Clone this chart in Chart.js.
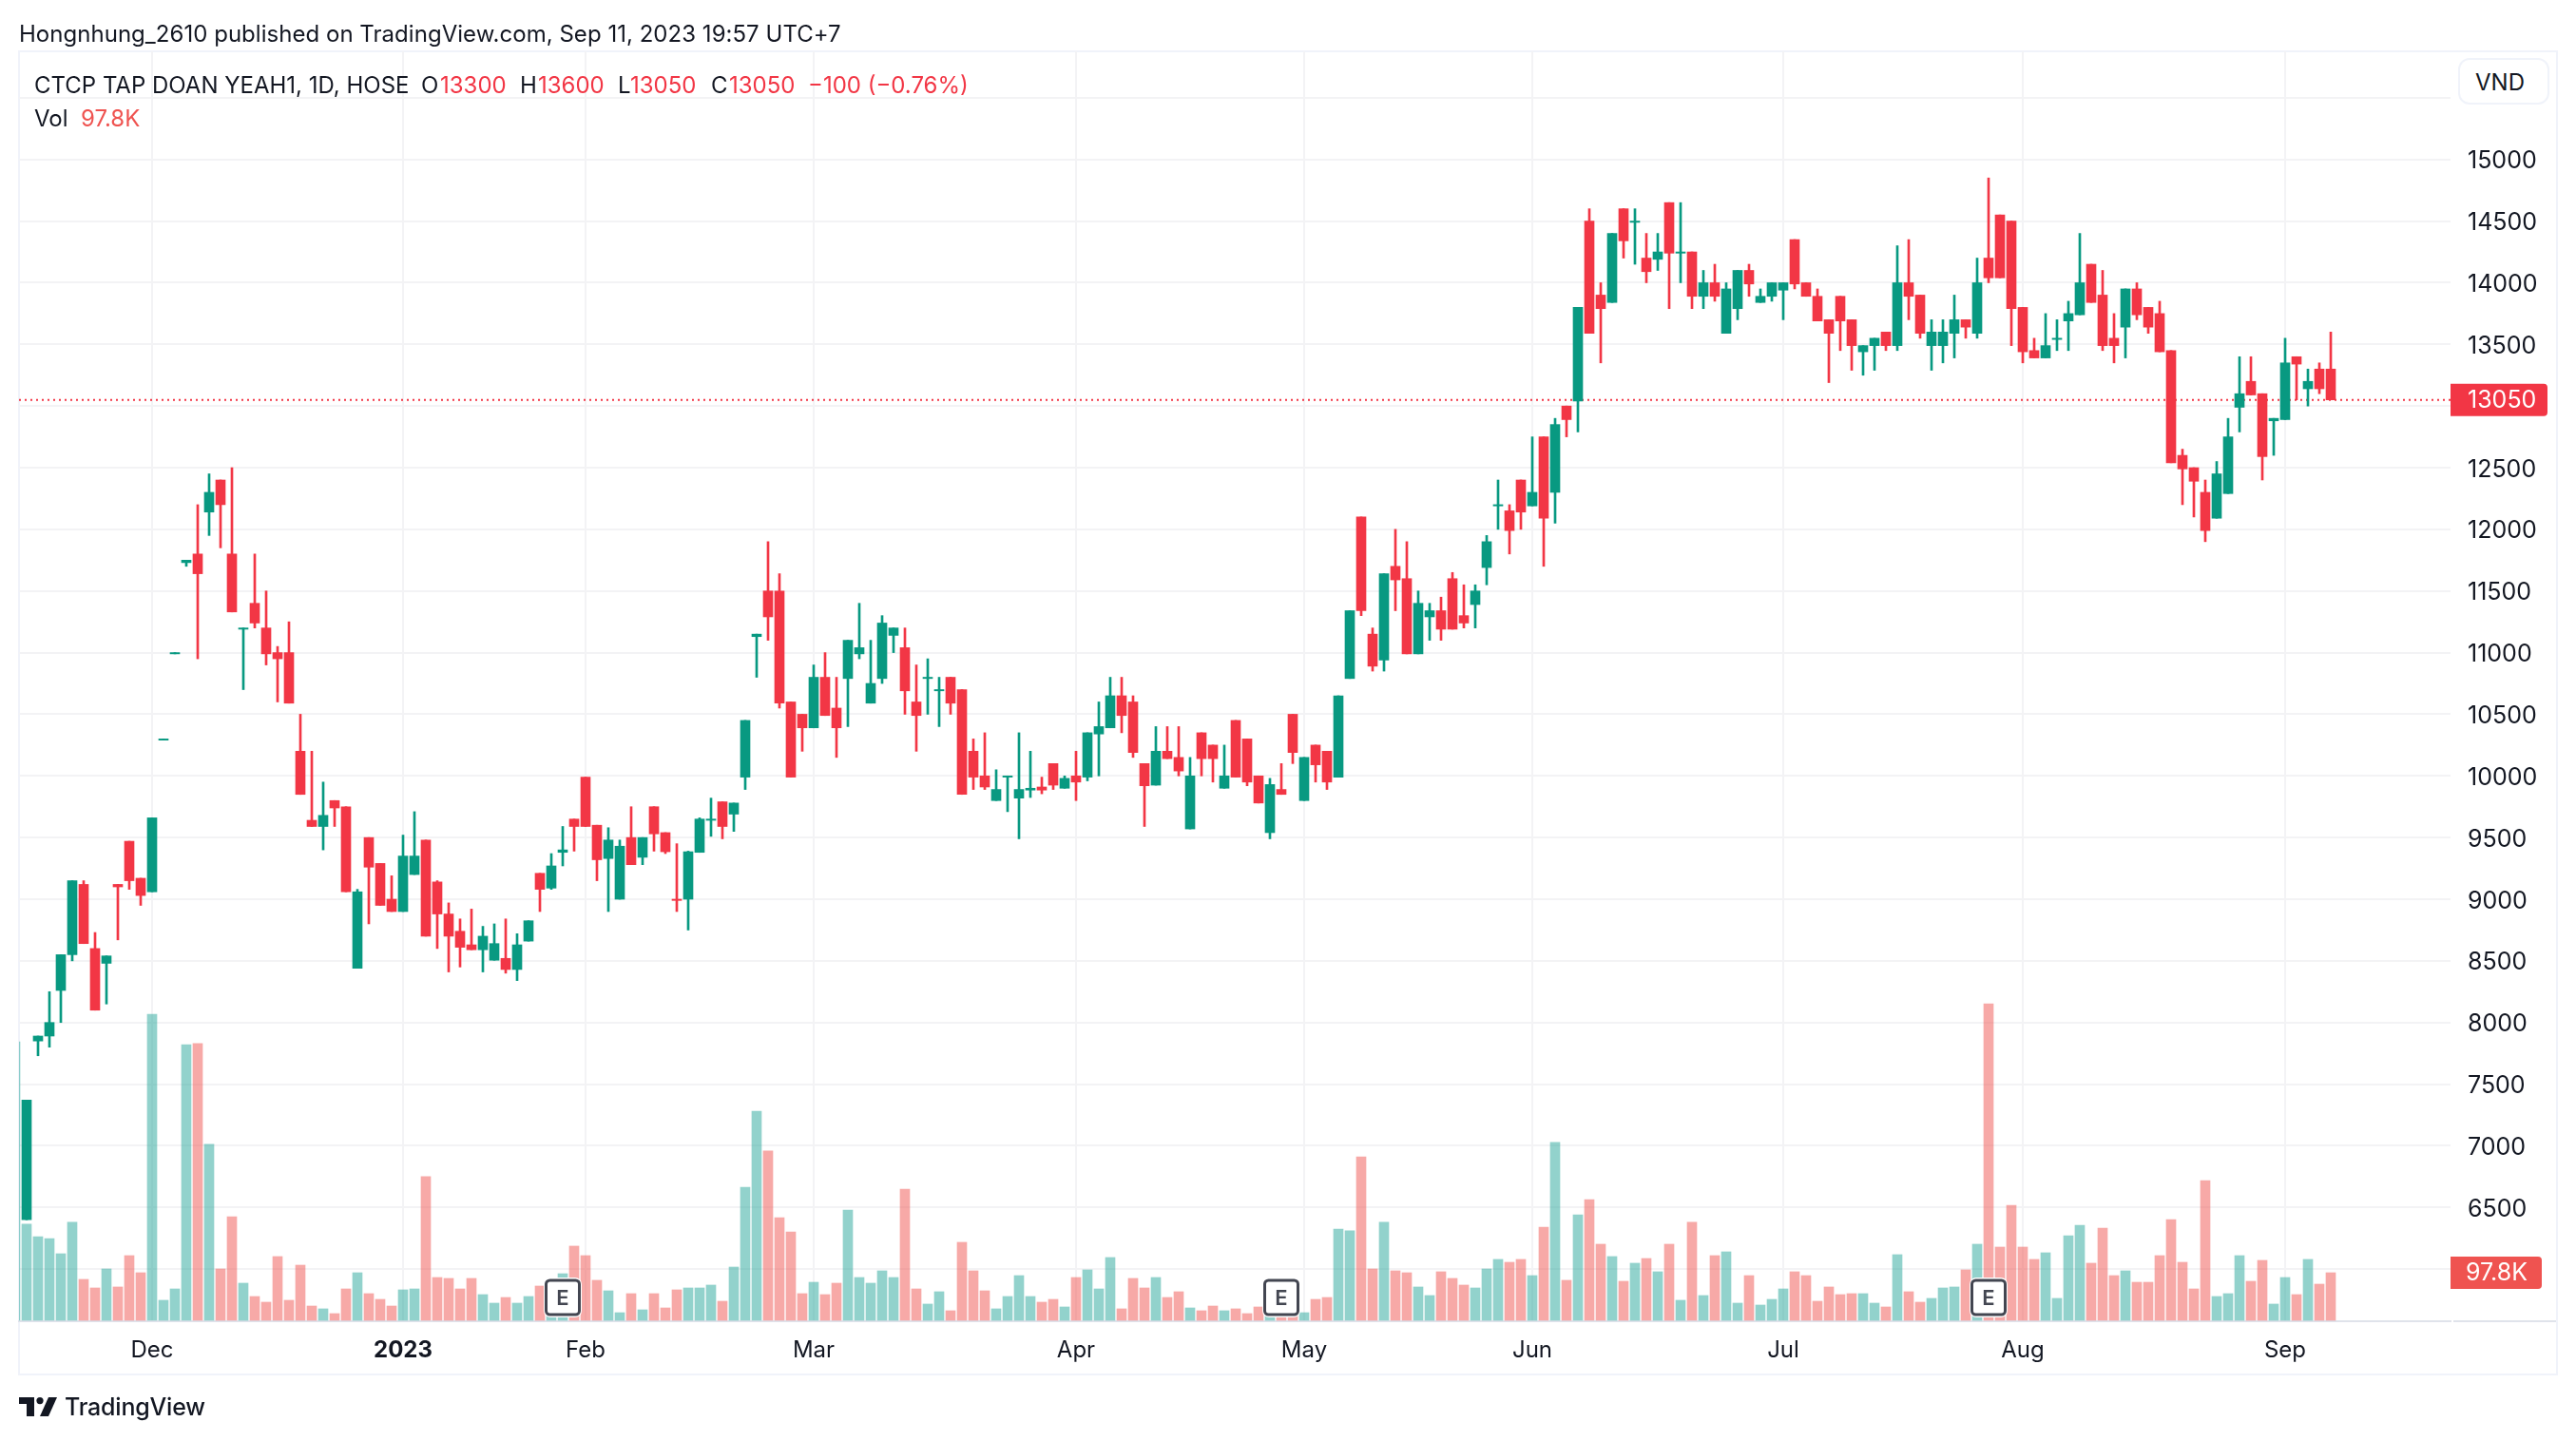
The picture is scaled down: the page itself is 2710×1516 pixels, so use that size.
<!DOCTYPE html>
<html>
<head>
<meta charset="utf-8">
<title>CTCP TAP DOAN YEAH1</title>
<script src="https://cdn.jsdelivr.net/npm/chart.js@4/dist/chart.umd.min.js"></script>
<style>
  html, body { margin: 0; padding: 0; background: #fff; }
  #wrap { position: relative; width: 2710px; height: 1516px; overflow: hidden; font-family: Inter, sans-serif; color: #131722; }
  canvas { position: absolute; left: 0; top: 0; }
  .t { position: absolute; white-space: nowrap; line-height: 32px; font-size: 24px; }
  .r { color: #F23645; }
  #vnd { position: absolute; left: 2586px; top: 61px; width: 96px; height: 49px; box-sizing: border-box; border: 2px solid #F0F3FA; border-radius: 12px; background: #fff; font-size: 24px; line-height: 47px; padding-left: 16px; }
</style>
</head>
<body>
<div id="wrap">
  <canvas id="chart" width="2710" height="1516"></canvas>
  <div class="t" style="left:20px;top:20px;letter-spacing:0.03px">Hongnhung_2610 published on TradingView.com, Sep 11, 2023 19:57 UTC+7</div>
  <div class="t" style="left:36px;top:74px">CTCP TAP DOAN YEAH1, 1D, HOSE</div>
  <div class="t" style="left:443px;top:74px">O</div><div class="t r" style="left:463px;top:74px">13300</div>
  <div class="t" style="left:547px;top:74px">H</div><div class="t r" style="left:566px;top:74px">13600</div>
  <div class="t" style="left:650px;top:74px">L</div><div class="t r" style="left:663px;top:74px">13050</div>
  <div class="t" style="left:748px;top:74px">C</div><div class="t r" style="left:767px;top:74px">13050</div>
  <div class="t r" style="left:850px;top:74px">−100 (−0.76%)</div>
  <div class="t" style="left:36px;top:109px">Vol</div><div class="t" style="left:85px;top:109px;color:#EF5350">97.8K</div>
  <div id="vnd">VND</div>
  <svg style="position:absolute;left:20px;top:1470px" width="40" height="20" viewBox="0 0 40 20">
    <path fill="#131722" d="M0 0H16V20H8V7H0Z"/><circle fill="#131722" cx="22" cy="3.6" r="3.6"/><path fill="#131722" d="M31 0H40L31 20H22Z"/>
  </svg>
  <div class="t" style="left:68px;top:1464px;font-size:25px;font-weight:500;letter-spacing:-0.2px">TradingView</div>
</div>

<script>
// Daily candles. Index 0 is only a clipped volume sliver at the left edge
const opens = [
  null, 6400, 7850, 7890, 8260, 8550, 9120, 8600, 8480, 9120,
  9470, 9170, 9060, 10290, 10990, 11730, 11800, 12140, 12400, 11800,
  11190, 11400, 11200, 11000, 11000, 10200, 9640, 9590, 9800, 9750,
  8440, 9500, 9290, 9000, 8900, 9200, 9480, 9140, 8880, 8740,
  8630, 8590, 8505, 8520, 8430, 8660, 9210, 9090, 9380, 9650,
  9990, 9600, 9330, 9000, 9500, 9340, 9750, 9540, 9000, 9000,
  9380, 9640, 9790, 9690, 9990, 11130, 11500, 11500, 10600, 10500,
  10390, 10800, 10550, 10790, 10990, 10590, 10790, 11140, 11040, 10600,
  10790, 10690, 10800, 10700, 10200, 10000, 9800, 9990, 9820, 9885,
  9910, 10100, 9900, 10000, 9990, 10340, 10390, 10650, 10600, 10100,
  9925, 10200, 10150, 9570, 10350, 10250, 9900, 10450, 10300, 10000,
  9540, 9890, 10500, 9800, 10250, 10200, 9990, 10790, 12100, 11150,
  10940, 11700, 11600, 10990, 11290, 11340, 11600, 11300, 11390, 11690,
  12190, 12150, 12400, 12190, 12750, 12300, 13000, 13040, 14500, 13900,
  13840, 14600, 14490, 14200, 14190, 14650, 14240, 14250, 13890, 14000,
  13590, 13790, 14100, 13840, 13890, 13940, 14350, 14000, 13890, 13700,
  13890, 13700, 13440, 13490, 13600, 13490, 14000, 13900, 13490, 13490,
  13590, 13700, 13590, 14200, 14550, 14500, 13800, 13450, 13390, 13540,
  13690, 13740, 14150, 13900, 13550, 13640, 13950, 13800, 13750, 13450,
  12600, 12500, 12300, 12090, 12290, 12990, 13200, 13100, 12880, 12890,
  13400, 13140, 13300, 13300
];
const highs = [
  null, 7370, 7890, 8250, 8550, 9150, 9150, 8730, 8540, 9120,
  9470, 9170, 9660, 10300, 11000, 11750, 12200, 12450, 12400, 12500,
  11200, 11800, 11500, 11050, 11250, 10500, 10200, 9950, 9800, 9750,
  9080, 9500, 9290, 9190, 9520, 9710, 9480, 9150, 8970, 8840,
  8920, 8780, 8800, 8840, 8720, 8825, 9210, 9370, 9590, 9650,
  9990, 9600, 9580, 9480, 9750, 9500, 9750, 9540, 9450, 9390,
  9660, 9820, 9790, 9780, 10450, 11150, 11900, 11640, 10600, 10500,
  10900, 11000, 10800, 11100, 11400, 11100, 11300, 11200, 11200, 10900,
  10950, 10800, 10800, 10700, 10300, 10350, 10050, 10000, 10350, 10200,
  9990, 10100, 10000, 10200, 10350, 10600, 10800, 10800, 10650, 10100,
  10400, 10400, 10400, 10150, 10350, 10250, 10250, 10450, 10300, 10000,
  9980, 10100, 10500, 10150, 10250, 10200, 10650, 11340, 12100, 11200,
  11640, 12000, 11900, 11500, 11400, 11450, 11650, 11550, 11550, 11950,
  12400, 12200, 12400, 12750, 12750, 12900, 13000, 13800, 14600, 14000,
  14400, 14600, 14600, 14400, 14400, 14650, 14650, 14250, 14100, 14150,
  14000, 14100, 14150, 13950, 14000, 14000, 14350, 14000, 13950, 13700,
  13890, 13700, 13490, 13550, 13600, 14300, 14350, 13900, 13700, 13700,
  13900, 13700, 14200, 14850, 14550, 14500, 13800, 13550, 13750, 13700,
  13850, 14400, 14150, 14100, 13750, 13950, 14000, 13800, 13850, 13450,
  12650, 12500, 12400, 12550, 12900, 13400, 13400, 13100, 12900, 13550,
  13400, 13300, 13350, 13600
];
const lows = [
  null, 6400, 7730, 7800, 8000, 8500, 8640, 8100, 8150, 8670,
  9080, 8950, 9060, 10290, 10990, 11700, 10950, 11950, 11850, 11330,
  10700, 11200, 10900, 10600, 10590, 9850, 9590, 9400, 9590, 9060,
  8440, 8800, 8950, 8900, 8900, 9200, 8700, 8600, 8410, 8450,
  8590, 8410, 8505, 8400, 8340, 8660, 8900, 9080, 9270, 9390,
  9590, 9150, 8900, 9000, 9280, 9280, 9390, 9370, 8900, 8750,
  9380, 9510, 9490, 9550, 9890, 10800, 11100, 10550, 9990, 10200,
  10390, 10490, 10150, 10400, 10950, 10590, 10750, 11000, 10500, 10200,
  10500, 10400, 10500, 9850, 9890, 9890, 9800, 9710, 9490, 9825,
  9855, 9890, 9900, 9800, 9960, 10000, 10390, 10350, 10150, 9590,
  9925, 10140, 10000, 9570, 10000, 9950, 9900, 9990, 9920, 9780,
  9490, 9850, 10100, 9800, 9950, 9890, 9990, 10790, 11300, 10850,
  10850, 11340, 10990, 10990, 11100, 11100, 11190, 11200, 11200, 11550,
  12000, 11800, 12000, 12190, 11700, 12050, 12750, 12790, 13590, 13350,
  13840, 14200, 14150, 14000, 14100, 13790, 14000, 13790, 13790, 13850,
  13590, 13700, 13890, 13840, 13850, 13700, 13950, 13890, 13690, 13190,
  13450, 13290, 13250, 13290, 13450, 13450, 13700, 13550, 13290, 13350,
  13390, 13550, 13550, 14000, 14040, 13490, 13350, 13390, 13390, 13450,
  13450, 13740, 13840, 13450, 13350, 13390, 13700, 13590, 13440, 12540,
  12200, 12100, 11900, 12090, 12290, 12790, 13090, 12400, 12600, 12890,
  13050, 13000, 13100, 13050
];
const closes = [
  null, 7370, 7890, 8000, 8550, 9150, 8640, 8100, 8540, 9100,
  9150, 9030, 9660, 10300, 11000, 11750, 11640, 12300, 12200, 11330,
  11200, 11240, 10990, 10950, 10590, 9850, 9590, 9680, 9740, 9060,
  9060, 9260, 8950, 8900, 9350, 9350, 8700, 8880, 8700, 8610,
  8590, 8700, 8640, 8430, 8630, 8825, 9080, 9270, 9400, 9590,
  9590, 9320, 9480, 9430, 9280, 9500, 9530, 9385, 8990, 9385,
  9650, 9650, 9590, 9780, 10450, 11150, 11290, 10590, 9990, 10390,
  10800, 10490, 10390, 11100, 11040, 10750, 11240, 11200, 10690, 10490,
  10800, 10700, 10590, 9850, 9990, 9910, 9890, 10000, 9890, 9900,
  9885, 9925, 9980, 9950, 10350, 10400, 10650, 10490, 10190, 9920,
  10200, 10140, 10040, 10000, 10140, 10140, 10000, 9990, 9950, 9780,
  9930, 9850, 10190, 10150, 10090, 9950, 10650, 11340, 11340, 10890,
  11640, 11590, 10990, 11400, 11340, 11190, 11190, 11240, 11500, 11900,
  12200, 11990, 12140, 12300, 12090, 12850, 12890, 13800, 13590, 13790,
  14400, 14340, 14500, 14090, 14250, 14240, 14250, 13890, 14000, 13890,
  13950, 14100, 13990, 13890, 14000, 14000, 13990, 13890, 13690, 13590,
  13690, 13490, 13490, 13550, 13490, 14000, 13890, 13590, 13600, 13600,
  13700, 13640, 14000, 14040, 14040, 13790, 13440, 13390, 13490, 13550,
  13750, 14000, 13840, 13490, 13490, 13950, 13740, 13640, 13440, 12540,
  12490, 12390, 11990, 12450, 12750, 13100, 13090, 12590, 12900, 13350,
  13340, 13200, 13140, 13050
];
// Volume in thousands
const volumes = [
  573.1, 197.6, 172.1, 168.2, 136.9, 201.5, 84.1, 66.5, 105.6, 68.5,
  133.0, 97.8, 629.8, 41.1, 64.5, 567.2, 569.2, 361.9, 105.6, 213.2,
  76.3, 48.9, 37.2, 131.1, 41.1, 113.4, 29.3, 23.5, 13.7, 64.5,
  97.8, 54.8, 43.0, 29.3, 62.6, 64.5, 295.4, 88.0, 86.1, 64.5,
  86.1, 52.8, 35.2, 46.9, 35.2, 48.9, 70.4, 56.7, 95.8, 152.6,
  133.0, 82.2, 60.6, 15.6, 54.8, 21.5, 54.8, 25.4, 62.6, 66.5,
  66.5, 72.4, 39.1, 109.5, 273.8, 430.3, 348.2, 211.2, 181.9, 54.8,
  78.2, 52.8, 76.3, 226.9, 88.0, 76.3, 101.7, 88.0, 269.9, 64.5,
  33.3, 58.7, 19.6, 160.4, 101.7, 60.6, 23.5, 48.9, 91.9, 48.9,
  37.2, 43.0, 27.4, 88.0, 103.7, 64.5, 129.1, 23.5, 86.1, 66.5,
  88.0, 46.9, 58.7, 25.4, 19.6, 29.3, 19.6, 23.5, 13.7, 27.4,
  20.9, 14.3, 17.6, 15.6, 43.0, 46.9, 187.8, 183.9, 336.4, 105.6,
  201.5, 101.7, 97.8, 68.5, 50.9, 99.8, 86.1, 72.4, 66.5, 105.6,
  125.2, 119.3, 125.2, 91.9, 191.7, 365.8, 82.2, 217.1, 248.4, 156.5,
  131.1, 80.2, 117.4, 127.1, 99.8, 156.5, 41.1, 201.5, 50.9, 133.0,
  140.8, 35.2, 91.9, 31.3, 43.0, 64.5, 99.8, 91.9, 39.1, 68.5,
  52.8, 54.8, 54.8, 35.2, 27.4, 135.0, 58.7, 37.2, 45.0, 66.5,
  68.5, 103.7, 156.5, 651.3, 150.6, 236.7, 150.6, 125.2, 138.9, 45.0,
  174.1, 195.6, 117.4, 189.7, 91.9, 101.7, 78.2, 78.2, 133.0, 207.3,
  119.3, 64.5, 287.5, 48.9, 54.8, 133.0, 80.2, 123.2, 33.3, 88.0,
  52.8, 125.2, 74.3, 97.8
];

// Month ticks along the time axis, as bar indices
const monthTicks = [12, 34, 50, 70, 93, 113, 133, 155, 176, 199];
const monthLabels = ["Dec", "2023", "Feb", "Mar", "Apr", "May", "Jun", "Jul", "Aug", "Sep"];
const priceTicks = [6000, 6500, 7000, 7500, 8000, 8500, 9000, 9500, 10000, 10500, 11000, 11500, 12000, 12500, 13000, 13500, 14000, 14500, 15000, 15500];
const hiddenPriceLabels = [6000, 13000, 15500]; // sit under the tags and the VND button
const earningsBars = [48, 111, 173];
const lastPrice = 13050;
const lastVolume = 97.8;

const UP = "#089981";
const DOWN = "#F23645";
const VOL_UP = "rgba(38,166,154,0.5)";
const VOL_DOWN = "rgba(239,83,80,0.5)";
const GRID = "#F3F3F5";
const FONT = "Inter, sans-serif";

const X_MIN = 1 / 3;
const X_MAX = 213.5;

// Candle bars, skipping the first index which has no body on screen
const barIndex = opens.map((o, i) => i).filter((i) => opens[i] !== null);
const candleColors = barIndex.map((i) => (closes[i] >= opens[i] ? UP : DOWN));
const volumeColors = volumes.map((v, i) => (closes[i] >= opens[i] ? VOL_UP : VOL_DOWN));

function roundRight(ctx, x, y, w, h, r) {
  ctx.beginPath();
  ctx.roundRect(x, y, w, h, [0, r, r, 0]);
  ctx.fill();
}

// Price tags, earnings markers and the frame around the panes
const overlayPlugin = {
  id: "overlay",
  beforeDraw(chart) {
    const c = chart.ctx;
    c.save();
    c.strokeStyle = "#F0F3FA";
    c.lineWidth = 2;
    c.strokeRect(20, 54, 2670, 1392);
    c.restore();
  },
  afterDraw(chart) {
    const c = chart.ctx;
    const area = chart.chartArea;
    const xs = chart.scales.x;
    const ys = chart.scales.y;
    const yv = chart.scales.vol;

    c.save();
    // bottom line under the price scale
    c.strokeStyle = "#E0E3EB";
    c.lineWidth = 2;
    c.beginPath();
    c.moveTo(area.right + 3, area.bottom);
    c.lineTo(2689, area.bottom);
    c.stroke();

    c.textBaseline = "middle";
    c.textAlign = "left";
    c.font = "25px " + FONT;

    const priceY = ys.getPixelForValue(lastPrice);
    c.fillStyle = DOWN;
    roundRight(c, area.right, priceY - 17, 102, 34, 4);
    c.fillStyle = "#fff";
    c.fillText("13050", area.right + 18, priceY + 1);

    const volY = yv.getPixelForValue(lastVolume);
    c.fillStyle = "#EF5350";
    roundRight(c, area.right, volY - 17, 96, 34, 4);
    c.fillStyle = "#fff";
    c.fillText("97.8K", area.right + 16, volY + 1);

    // "E" markers sit on the pane floor
    earningsBars.forEach((i) => {
      const cx = xs.getPixelForValue(i);
      c.fillStyle = "#fff";
      c.beginPath();
      c.roundRect(cx - 20, area.bottom - 46, 40, 42, 7);
      c.fill();
      c.fillStyle = "#fff";
      c.strokeStyle = "#434651";
      c.lineWidth = 3;
      c.beginPath();
      c.roundRect(cx - 17.5, area.bottom - 43, 35, 36, 4);
      c.fill();
      c.stroke();
      c.fillStyle = "#434651";
      c.font = "600 22px " + FONT;
      c.textAlign = "center";
      c.fillText("E", cx, area.bottom - 24);
    });
    c.restore();
  },
};

new Chart(document.getElementById("chart").getContext("2d"), {
  data: {
    datasets: [
      {
        type: "bar",
        label: "Body",
        data: barIndex.map((i) => ({ x: i, y: [opens[i], closes[i]] })),
        backgroundColor: candleColors,
        barThickness: 10,
        grouped: false,
        order: 1,
      },
      {
        type: "bar",
        label: "Wick",
        data: barIndex.map((i) => ({ x: i, y: [lows[i], highs[i]] })),
        backgroundColor: candleColors,
        barThickness: 2,
        grouped: false,
        order: 2,
      },
      {
        type: "line",
        label: "Last",
        data: [
          { x: X_MIN, y: lastPrice },
          { x: X_MAX, y: lastPrice },
        ],
        borderColor: DOWN,
        borderWidth: 2,
        borderDash: [2, 4],
        pointRadius: 0,
        order: 3,
      },
      {
        type: "bar",
        label: "Vol",
        yAxisID: "vol",
        data: volumes.map((v, i) => ({ x: i, y: v })),
        backgroundColor: volumeColors,
        barThickness: 10,
        grouped: false,
        order: 4,
      },
    ],
  },
  options: {
    responsive: false,
    animation: false,
    devicePixelRatio: 1,
    layout: { padding: { left: 20, top: 54, right: 20, bottom: 70 } },
    plugins: { legend: { display: false }, tooltip: { enabled: false } },
    scales: {
      x: {
        type: "linear",
        min: X_MIN,
        max: X_MAX,
        offset: false,
        afterBuildTicks(scale) {
          scale.ticks = monthTicks.map((v) => ({ value: v }));
        },
        afterFit(scale) {
          scale.height = 56;
        },
        grid: { color: GRID, lineWidth: 2, drawTicks: false, offset: false },
        border: { color: "#E0E3EB", width: 2 },
        ticks: {
          autoSkip: false,
          maxRotation: 0,
          padding: 16,
          color: "#131722",
          font: (ctx) => ({
            family: FONT,
            size: 24,
            weight: ctx.tick && ctx.tick.value === 34 ? "700" : "400",
          }),
          callback: (value) => monthLabels[monthTicks.indexOf(value)],
        },
      },
      y: {
        position: "right",
        min: 5577,
        max: 15877,
        afterBuildTicks(scale) {
          scale.ticks = priceTicks.map((v) => ({ value: v }));
        },
        afterFit(scale) {
          scale.width = 112;
        },
        grid: { color: GRID, lineWidth: 2, drawTicks: false },
        border: { display: false },
        ticks: {
          padding: 18,
          labelOffset: 2,
          color: "#131722",
          font: { family: FONT, size: 25 },
          callback: (value) => (hiddenPriceLabels.includes(value) ? "" : String(value)),
        },
      },
      vol: {
        display: false,
        position: "left",
        min: -2,
        max: 2611,
      },
    },
  },
  plugins: [overlayPlugin],
});
</script>
</body>
</html>
